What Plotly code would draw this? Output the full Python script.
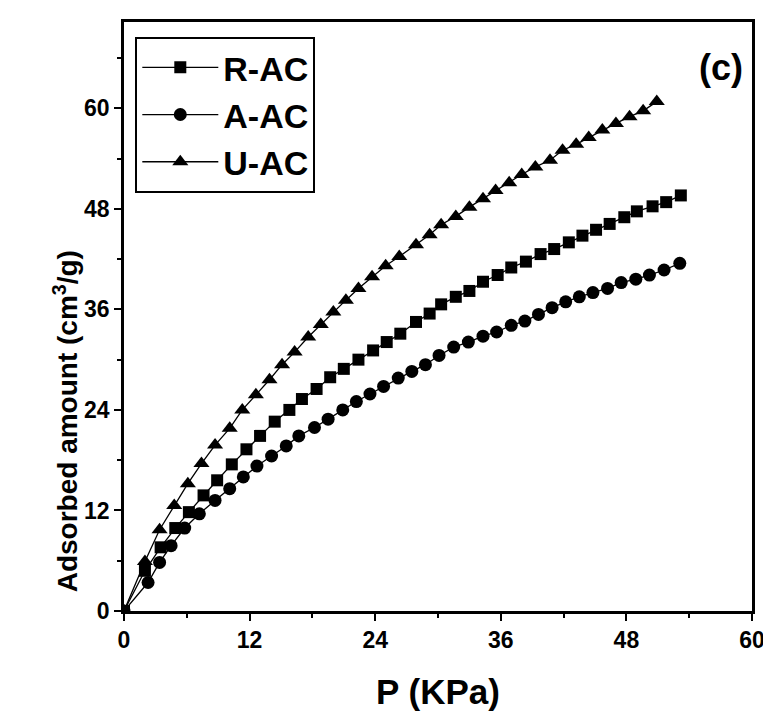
import plotly.graph_objects as go

# R-AC (squares)
r_x = [0, 2.0, 3.5, 4.9, 6.2, 7.6, 8.9, 10.3, 11.7, 13.0, 14.4, 15.8, 17.0, 18.4, 19.7, 21.0,
       22.4, 23.8, 25.1, 26.4, 27.9, 29.2, 30.3, 31.7, 33.0, 34.3, 35.7, 37.0, 38.4, 39.8,
       41.1, 42.5, 43.8, 45.1, 46.4, 47.8, 49.0, 50.5, 51.8, 53.2]
r_y = [0, 4.8, 7.6, 9.9, 11.8, 13.8, 15.6, 17.5, 19.3, 20.9, 22.6, 24.0, 25.3, 26.5, 27.9, 28.9,
       30.0, 31.1, 32.1, 33.1, 34.5, 35.5, 36.6, 37.5, 38.2, 39.3, 40.1, 41.0, 41.7, 42.6,
       43.2, 44.0, 44.8, 45.5, 46.2, 47.0, 47.7, 48.3, 48.8, 49.6]

# A-AC (circles)
a_x = [0, 2.3, 3.4, 4.5, 5.8, 7.2, 8.7, 10.1, 11.4, 12.7, 14.1, 15.5, 16.7, 18.2, 19.5, 20.9,
       22.2, 23.5, 24.8, 26.2, 27.5, 28.8, 30.1, 31.5, 32.9, 34.3, 35.6, 37.0, 38.3, 39.6,
       40.9, 42.2, 43.5, 44.8, 46.2, 47.5, 48.9, 50.2, 51.6, 53.1]
a_y = [0, 3.4, 5.8, 7.8, 9.9, 11.6, 13.2, 14.6, 16.0, 17.3, 18.5, 19.7, 20.9, 21.9, 22.9, 24.0,
       25.0, 25.9, 26.8, 27.8, 28.6, 29.4, 30.5, 31.5, 32.1, 32.8, 33.3, 34.1, 34.6, 35.4,
       36.2, 36.9, 37.5, 38.0, 38.5, 39.2, 39.6, 40.1, 40.7, 41.5]

# U-AC (triangles)
u_x = [0, 2.0, 3.4, 4.8, 6.1, 7.4, 8.7, 10.1, 11.3, 12.6, 13.9, 15.1, 16.3, 17.6, 18.8, 20.0,
       21.2, 22.4, 23.7, 25.0, 26.3, 27.9, 29.2, 30.3, 31.7, 33.0, 34.3, 35.5, 36.8, 38.0,
       39.3, 40.7, 41.9, 43.2, 44.4, 45.7, 47.0, 48.3, 49.6, 50.9]
u_y = [0, 5.9, 9.7, 12.6, 15.2, 17.6, 19.8, 21.8, 24.0, 25.8, 27.6, 29.4, 30.9, 32.7, 34.2, 35.7,
       37.1, 38.5, 39.9, 41.2, 42.3, 43.7, 44.9, 46.1, 47.1, 48.2, 49.2, 50.2, 51.1, 52.1,
       53.0, 53.8, 55.0, 55.7, 56.5, 57.4, 58.2, 59.0, 59.7, 60.8]

series_names = ["R-AC", "A-AC", "U-AC"]
x_ticks = [0, 12, 24, 36, 48, 60]
y_ticks = [0, 12, 24, 36, 48, 60]

FONT = "Liberation Sans, Arial, sans-serif"

fig = go.Figure()
specs = [(r_x, r_y, "square", 12), (a_x, a_y, "circle", 13), (u_x, u_y, "triangle-up", 14)]
for name, (xs, ys, sym, sz) in zip(series_names, specs):
    fig.add_trace(go.Scatter(
        x=xs, y=ys, name=name, mode="lines+markers", legendgroup=name,
        line=dict(color="black", width=1.3),
        marker=dict(symbol=sym, size=sz, color="black"),
    ))

axis_common = dict(
    showgrid=False, zeroline=False, showline=True, linecolor="black", linewidth=2.5,
    mirror=True, ticks="outside", ticklen=7, tickwidth=2, tickcolor="black",
    tickfont=dict(family=FONT, size=23, color="black", weight="bold"),
    minor=dict(ticks="outside", ticklen=4, tickwidth=1.5, tickcolor="black", dtick=6),
    automargin=False,
)

fig.update_xaxes(range=[0, 60], tickvals=x_ticks, ticktext=[str(v) for v in x_ticks],
                 title=dict(text="P (KPa)", font=dict(family=FONT, size=35, color="black", weight="bold"),
                            standoff=28),
                 **axis_common)
fig.update_yaxes(range=[0, 70.3], tickvals=y_ticks, ticktext=[str(v) for v in y_ticks],
                 **axis_common)

# y-axis title drawn as a rotated annotation (it sits below the axis centre in the original)
fig.add_annotation(x=-0.0924, y=0.322, xref="paper", yref="paper",
                   xanchor="center", yanchor="middle", textangle=-90,
                   text="Adsorbed amount (cm<sup>3</sup>/g)", showarrow=False,
                   font=dict(family=FONT, size=28, color="black", weight="bold"))

fig.add_annotation(x=0.9506, y=0.922, xref="paper", yref="paper",
                   xanchor="center", yanchor="middle", text="(c)", showarrow=False,
                   font=dict(family=FONT, size=36, color="black", weight="bold"))

# the page adds an 8 px body margin, so the figure is 8 px smaller than the window
fig.update_layout(
    width=763, height=714,
    margin=dict(l=116, r=19, t=14, b=111),
    paper_bgcolor="white", plot_bgcolor="white",
    showlegend=True,
    legend=dict(x=0.018, y=0.975, xanchor="left", yanchor="top",
                bgcolor="white", bordercolor="black", borderwidth=2,
                font=dict(family=FONT, size=34, color="black", weight="bold"),
                itemwidth=76, tracegroupgap=0),
)

fig.write_html("out.html")
